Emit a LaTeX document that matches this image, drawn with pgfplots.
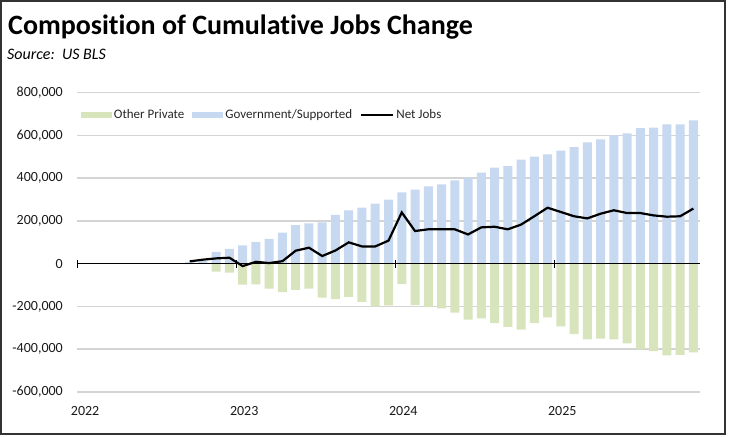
\documentclass[border=0pt]{standalone}
\usepackage{pgfplots}
\usepackage{pgfplotstable}
\usepackage{fontspec}
\setmainfont{Carlito}[Ligatures=NoCommon]
\pgfplotsset{compat=1.18}

\definecolor{govblue}{HTML}{C6D9F0}
\definecolor{privgreen}{HTML}{D7E4BC}
\definecolor{gridgray}{HTML}{D4D4D4}

% month index: 0 = Jan 2022
\pgfplotstableread{
idx gov priv net
8 8000 -2000 11000
9 12000 0 19000
10 56000 -37000 25000
11 69000 -42000 28000
12 86000 -98000 -11000
13 102000 -97000 9000
14 116000 -117000 3000
15 145000 -133000 12000
16 181000 -122000 61000
17 189000 -117000 75000
18 193000 -158000 36000
19 229000 -165000 62000
20 250000 -155000 100000
21 262000 -179000 81000
22 281000 -201000 81000
23 300000 -195000 108000
24 334000 -95000 240000
25 347000 -194000 153000
26 362000 -203000 161000
27 371000 -209000 161000
28 390000 -229000 161000
29 403000 -262000 137000
30 426000 -256000 170000
31 450000 -278000 173000
32 456000 -295000 161000
33 487000 -308000 183000
34 501000 -278000 222000
35 512000 -251000 262000
36 529000 -293000 242000
37 545000 -329000 222000
38 568000 -354000 212000
39 582000 -350000 234000
40 601000 -354000 250000
41 610000 -373000 237000
42 634000 -398000 237000
43 637000 -409000 226000
44 652000 -429000 220000
45 652000 -426000 222000
46 670000 -415000 258000
}\jobs

\begin{document}
\begin{tikzpicture}
\useasboundingbox (0,0) rectangle (729bp,437bp);
\draw[black!80, line width=2bp] (1bp,3bp) rectangle (725bp,436bp);

\node[anchor=base west, inner sep=0pt, font=\fontsize{28bp}{32bp}\selectfont\bfseries] at (8bp,402bp) {Composition of Cumulative Jobs Change};
\node[anchor=base west, inner sep=0pt, font=\fontsize{16bp}{18bp}\selectfont\itshape] at (7bp,377bp) {Source:\ \ US BLS};

\begin{axis}[
  at={(77bp,45bp)}, anchor=south west,
  scale only axis, width=623bp, height=299.3bp,
  xmin=-0.5, xmax=46.5, ymin=-600000, ymax=800000,
  axis line style={draw=none},
  ymajorgrids, grid style={gridgray, line width=1.5bp},
  ytick={-600000,-400000,...,800000},
  scaled y ticks=false,
  yticklabel style={/pgf/number format/fixed, /pgf/number format/1000 sep={,},
    anchor=east, inner sep=0pt, xshift=-14bp},
  xtick={0,12,24,36}, xticklabels={2022,2023,2024,2025},
  xticklabel style={anchor=north, inner sep=0pt, yshift=-14.5bp, xshift=1.5bp},
  major tick length=0pt,
  /pgf/number format/assume math mode=true,
  ticklabel style={font=\fontsize{14bp}{16bp}\selectfont, text=black!90},
  ybar, bar width=9bp,
  legend columns=-1,
  legend style={at={(0.006,0.9265)}, anchor=west, draw=none, fill=none,
    inner sep=0pt, font=\fontsize{13bp}{15bp}\selectfont, text=black!85,
    /tikz/every even column/.append style={column sep=6bp}},
]
\addplot[fill=privgreen, draw=none, bar shift=0pt,
  legend image code/.code={\fill[privgreen] (0bp,-3bp) rectangle (31bp,3bp);}]
  table[x=idx, y=priv] {\jobs};
\addlegendentry{Other Private}
\addplot[fill=govblue, draw=none, bar shift=0pt,
  legend image code/.code={\fill[govblue] (0bp,-3bp) rectangle (31bp,3bp);}]
  table[x=idx, y=gov] {\jobs};
\addlegendentry{Government/Supported}
\addplot[sharp plot, black, line width=2.2bp, mark=none,
  legend image code/.code={\draw[black, line width=2.2bp] (0bp,0bp) -- (32bp,0bp);}]
  table[x=idx, y=net] {\jobs};
\addlegendentry{Net Jobs}
\end{axis}

\begin{axis}[
  at={(77bp,45bp)}, anchor=south west,
  scale only axis, width=623bp, height=299.3bp,
  xmin=-0.5, xmax=46.5, ymin=-600000, ymax=800000,
  axis x line=middle, axis y line=none,
  x axis line style={-, black, line width=1.4bp},
  xtick={-0.5,11.5,23.5,35.5}, xticklabels={},
  ytick=\empty,
  hide obscured x ticks=false,
  major tick length=8bp, tick align=center,
  tick style={black, line width=1bp},
]
\addplot[draw=none] coordinates {(0,0)};
\end{axis}
\end{tikzpicture}
\end{document}
